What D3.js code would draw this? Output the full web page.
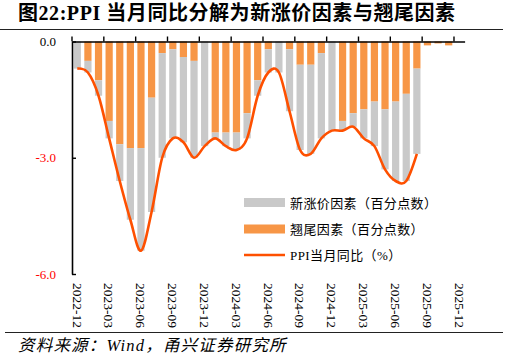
<!DOCTYPE html>
<html><head><meta charset="utf-8">
<script src="https://cdn.jsdelivr.net/npm/d3@7"></script>
<style>
html,body{margin:0;padding:0;background:#fff;}
svg{display:block;}
</style></head>
<body>
<svg id="chart" width="509" height="360"></svg>
<script>
const months = ["2022-12","2023-01","2023-02","2023-03","2023-04","2023-05","2023-06","2023-07","2023-08","2023-09","2023-10","2023-11",
"2023-12","2024-01","2024-02","2024-03","2024-04","2024-05","2024-06","2024-07","2024-08","2024-09","2024-10","2024-11",
"2024-12","2025-01","2025-02","2025-03","2025-04","2025-05","2025-06","2025-07","2025-08","2025-09","2025-10","2025-11","2025-12"];
// 翘尾因素（百分点数）
const carryover = [0,-0.5,-1.0,-2.05,-2.65,-2.75,-2.75,-1.45,-0.3,-0.2,-0.4,-0.5,
0,-2.35,-2.35,-2.35,-1.85,-1.0,-0.2,0,-0.2,-0.6,-0.6,-0.3,
0,-2.05,-1.85,-1.75,-1.55,-1.75,-1.55,-1.35,-0.7,-0.1,-0.05,-0.1,0];
// 新涨价因素（百分点数）
const newPrice = [-0.7,-0.3,-0.4,-0.45,-0.95,-1.85,-2.65,-2.95,-2.7,-2.3,-2.2,-2.5,
-2.7,-0.15,-0.35,-0.45,-0.65,-0.4,-0.6,-0.8,-1.6,-2.2,-2.3,-2.2,
-2.3,-0.25,-0.35,-0.75,-1.15,-1.55,-2.05,-2.25,-2.2,0,0,0,0];
// PPI当月同比（%）
const ppi = [-0.7,-0.8,-1.4,-2.5,-3.6,-4.6,-5.4,-4.4,-3.0,-2.5,-2.6,-3.0,
-2.7,-2.5,-2.7,-2.8,-2.5,-1.4,-0.8,-0.8,-1.8,-2.8,-2.9,-2.5,
-2.3,-2.3,-2.2,-2.5,-2.7,-3.3,-3.6,-3.6,-2.9,null,null,null,null];
const yTicks = [0,-3,-6];
const xLabelEvery = 3;

const svg = d3.select("#chart");
const serif = "'Liberation Serif','Noto Sans CJK SC',serif";

// title
svg.append("text").attr("x",18).attr("y",20)
  .attr("font-family",serif).attr("font-weight","bold").attr("font-size",20)
  .attr("letter-spacing",0.55)
  .attr("fill","#000").text("图22:PPI 当月同比分解为新涨价因素与翘尾因素");
svg.append("line").attr("x1",0).attr("x2",503).attr("y1",29.5).attr("y2",29.5)
  .attr("stroke","#222").attr("stroke-width",1);

const x = d3.scaleBand().domain(months).range([72,464.6]).paddingInner(0.32).paddingOuter(0.16);
const y = d3.scaleLinear().domain([-6,0]).range([274,41.5]);
const step = x.step();

// bars
const g = svg.append("g");
g.selectAll("rect.c").data(months).join("rect")
  .attr("x",d=>x(d)).attr("width",x.bandwidth())
  .attr("y",(d,i)=>y(0)).attr("height",(d,i)=>y(carryover[i])-y(0))
  .attr("fill","#f79646");
g.selectAll("rect.n").data(months).join("rect")
  .attr("x",d=>x(d)).attr("width",x.bandwidth())
  .attr("y",(d,i)=>y(carryover[i]))
  .attr("height",(d,i)=>y(carryover[i]+newPrice[i])-y(carryover[i]))
  .attr("fill","#c9c9c9");

// line
const line = d3.line()
  .defined(d=>d.v!==null)
  .x(d=>x(d.m)+x.bandwidth()/2).y(d=>y(d.v))
  .curve(d3.curveCardinal.tension(0));
svg.append("path").datum(months.map((m,i)=>({m,v:ppi[i]})))
  .attr("d",line).attr("fill","none").attr("stroke","#fe5000").attr("stroke-width",2.6)
  .attr("stroke-linejoin","round");

// x axis at top, ticks between categories
const tickCats = months.filter((d,i)=>i%xLabelEvery===0);
const xAxisG = svg.append("g").attr("transform","translate(0,41.5)")
  .call(d3.axisTop(x).tickValues(tickCats).tickSize(5).tickSizeOuter(0).tickFormat(""));
xAxisG.selectAll(".tick").attr("transform",d=>`translate(${x(d)-(step-x.bandwidth())/2},0)`);
xAxisG.select(".domain").attr("stroke","#000").attr("stroke-width",1.6);
xAxisG.selectAll(".tick line").attr("stroke","#000").attr("stroke-width",1.4);

// x labels (rotated) at bottom
svg.append("g").selectAll("text").data(tickCats).join("text")
  .attr("transform",d=>`translate(${x(d)+x.bandwidth()/2},283) rotate(90)`)
  .attr("dy","0.35em").attr("font-family",serif).attr("font-size",13.5)
  .attr("fill","#000").text(d=>d);

// y axis
const yAxisG = svg.append("g").attr("transform","translate(72,0)")
  .call(d3.axisLeft(y).tickValues(yTicks).tickSizeInner(-4).tickSizeOuter(0).tickPadding(16)
    .tickFormat(d=>d3.format(".1f")(d).replace("−","-")));
yAxisG.select(".domain").attr("stroke","#000").attr("stroke-width",1.6);
yAxisG.selectAll(".tick line").attr("stroke","#000").attr("stroke-width",1.4);
yAxisG.selectAll(".tick text").attr("font-family",serif).attr("font-size",13)
  .attr("fill",d=>d<0?"#ff0000":"#000");

// legend
const leg = svg.append("g").attr("font-family",serif).attr("font-size",13).attr("fill","#000")
  .attr("letter-spacing",0.4);
leg.append("rect").attr("x",244).attr("y",198).attr("width",41).attr("height",9).attr("fill","#c9c9c9");
leg.append("text").attr("x",290).attr("y",203).attr("dy","0.36em").text("新涨价因素（百分点数）");
leg.append("rect").attr("x",244).attr("y",224.5).attr("width",41).attr("height",9).attr("fill","#f79646");
leg.append("text").attr("x",290).attr("y",229).attr("dy","0.36em").text("翘尾因素（百分点数）");
leg.append("line").attr("x1",244).attr("x2",285).attr("y1",255).attr("y2",255)
  .attr("stroke","#fe5000").attr("stroke-width",2.6);
leg.append("text").attr("x",290).attr("y",255).attr("dy","0.36em").text("PPI当月同比（%）");

// source
svg.append("line").attr("x1",5).attr("x2",503).attr("y1",332.5).attr("y2",332.5)
  .attr("stroke","#222").attr("stroke-width",1);
svg.append("text").attr("x",18).attr("y",351).attr("font-family",serif).attr("font-style","italic")
  .attr("font-size",16.5).attr("letter-spacing",1.2).attr("fill","#000").text("资料来源：Wind，甬兴证券研究所");
</script>
</body></html>
